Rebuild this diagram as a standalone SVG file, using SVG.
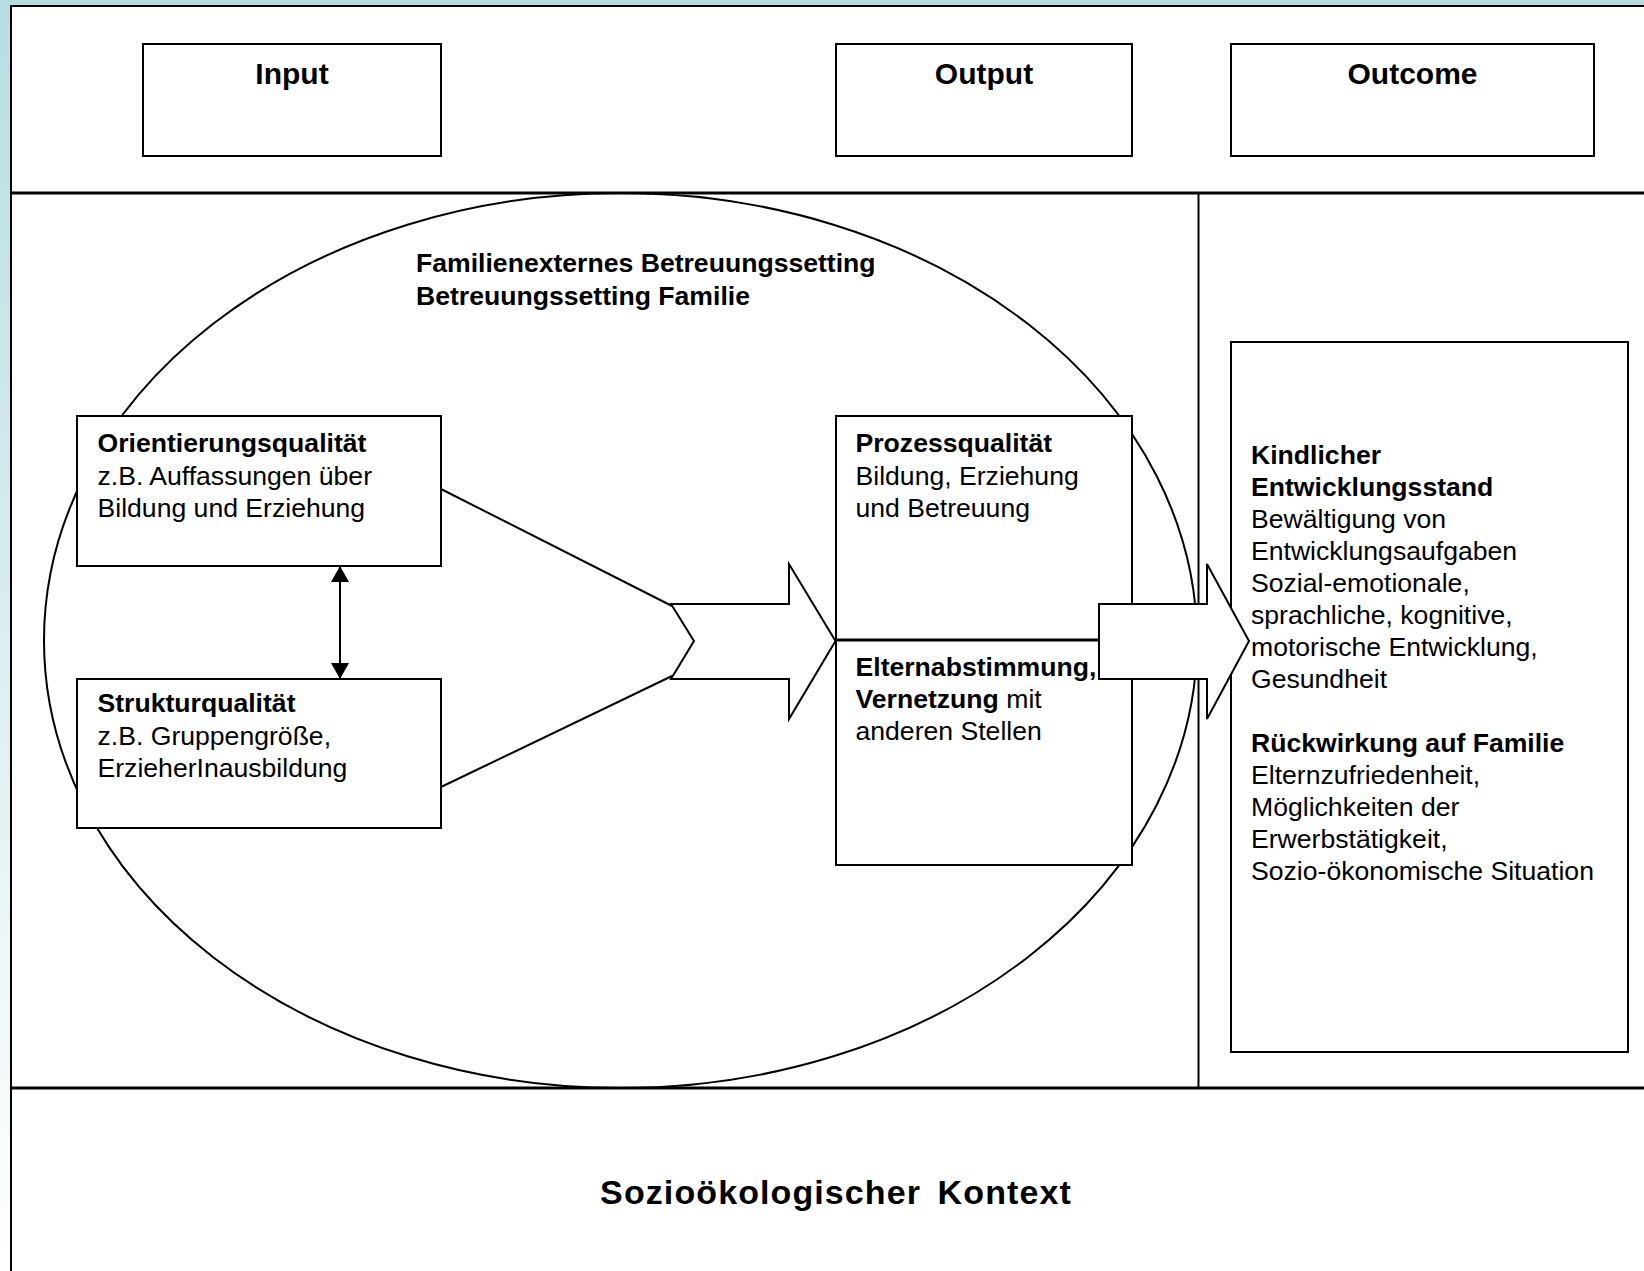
<svg xmlns="http://www.w3.org/2000/svg" width="1644" height="1271" viewBox="0 0 1644 1271">
  <defs>
    <linearGradient id="bg" x1="0" y1="0" x2="0" y2="1">
      <stop offset="0" stop-color="#B7DDE2"/>
      <stop offset="1" stop-color="#FFFFFF"/>
    </linearGradient>
    <marker id="ah" viewBox="0 0 16 18" refX="15" refY="9" markerWidth="16" markerHeight="18" markerUnits="userSpaceOnUse" orient="auto-start-reverse">
      <path d="M0,0 L16,9 L0,18 Z" fill="#000"/>
    </marker>
    <style>
      text { font-family: "Liberation Sans", Arial, sans-serif; fill: #000; }
      .box { fill: #fff; stroke: #000; stroke-width: 2; }
      .hdr { font-size: 30px; font-weight: bold; text-anchor: middle; }
      .t { font-size: 26.6px; }
      .b { font-weight: bold; }
      .line { stroke: #000; stroke-width: 2; fill: none; }
      .bigarrow { fill: #fff; stroke: #000; stroke-width: 2; stroke-linejoin: miter; }
    </style>
  </defs>

  <rect x="0" y="0" width="1644" height="1271" fill="url(#bg)"/>

  <g id="frame">
    <rect x="11" y="6" width="1640" height="1300" fill="#fff" stroke="#000" stroke-width="2"/>
    <line x1="11" y1="193" x2="1644" y2="193" stroke="#000" stroke-width="3"/>
    <line x1="11" y1="1088" x2="1644" y2="1088" stroke="#000" stroke-width="3"/>
    <line x1="1198.5" y1="193" x2="1198.5" y2="1088" stroke="#000" stroke-width="2"/>
  </g>

  <g id="setting">
    <ellipse cx="620.5" cy="640.5" rx="576.5" ry="447.5" class="line"/>
    <text class="t b" x="416" y="272">Familienexternes Betreuungssetting</text>
    <text class="t b" x="416" y="305">Betreuungssetting Familie</text>
  </g>

  <g id="input">
    <rect class="box" x="143" y="44" width="298" height="112"/>
    <text class="hdr" x="292" y="84">Input</text>
  </g>
  <g id="output">
    <rect class="box" x="836" y="44" width="296" height="112"/>
    <text class="hdr" x="984" y="84">Output</text>
  </g>
  <g id="outcome">
    <rect class="box" x="1231" y="44" width="363" height="112"/>
    <text class="hdr" x="1412.5" y="84">Outcome</text>
  </g>

  <g id="orientierung">
    <rect class="box" x="77" y="416" width="364" height="150"/>
    <text class="t" x="97.5" y="452"><tspan class="b">Orientierungsqualität</tspan><tspan x="97.5" dy="32.5">z.B. Auffassungen über</tspan><tspan x="97.5" dy="32.5">Bildung und Erziehung</tspan></text>
  </g>

  <g id="struktur">
    <rect class="box" x="77" y="679" width="364" height="149"/>
    <text class="t" x="97.5" y="712"><tspan class="b">Strukturqualität</tspan><tspan x="97.5" dy="32.5">z.B. Gruppengröße,</tspan><tspan x="97.5" dy="32.5">ErzieherInausbildung</tspan></text>
  </g>

  <g id="prozess">
    <rect class="box" x="836" y="416" width="296" height="449"/>
    <line x1="836" y1="640" x2="1132" y2="640" stroke="#000" stroke-width="3"/>
    <text class="t" x="855.5" y="452"><tspan class="b">Prozessqualität</tspan><tspan x="855.5" dy="32.5">Bildung, Erziehung</tspan><tspan x="855.5" dy="32.5">und Betreuung</tspan></text>
    <text class="t" x="855.5" y="676"><tspan class="b">Elternabstimmung,</tspan><tspan x="855.5" dy="32"><tspan class="b">Vernetzung</tspan> mit</tspan><tspan x="855.5" dy="32">anderen Stellen</tspan></text>
  </g>

  <g id="wirkung">
    <rect class="box" x="1231" y="342" width="397" height="710" stroke-width="2.5"/>
    <text class="t" x="1251" y="464">
      <tspan class="b">Kindlicher</tspan>
      <tspan class="b" x="1251" dy="32">Entwicklungsstand</tspan>
      <tspan x="1251" dy="32">Bewältigung von</tspan>
      <tspan x="1251" dy="32">Entwicklungsaufgaben</tspan>
      <tspan x="1251" dy="32">Sozial-emotionale,</tspan>
      <tspan x="1251" dy="32">sprachliche, kognitive,</tspan>
      <tspan x="1251" dy="32">motorische Entwicklung,</tspan>
      <tspan x="1251" dy="32">Gesundheit</tspan>
      <tspan class="b" x="1251" dy="64">Rückwirkung auf Familie</tspan>
      <tspan x="1251" dy="32">Elternzufriedenheit,</tspan>
      <tspan x="1251" dy="32">Möglichkeiten der</tspan>
      <tspan x="1251" dy="32">Erwerbstätigkeit,</tspan>
      <tspan x="1251" dy="32">Sozio-ökonomische Situation</tspan>
    </text>
  </g>

  <g id="kontext">
    <text x="836" y="1204" font-size="34" font-weight="bold" text-anchor="middle" letter-spacing="1.1" word-spacing="6">Sozioökologischer Kontext</text>
  </g>

  <g id="connectors">
    <line class="line" x1="441" y1="489" x2="672" y2="606"/>
    <line class="line" x1="441" y1="787" x2="672" y2="676"/>
    <line class="line" x1="340" y1="567" x2="340" y2="678" marker-start="url(#ah)" marker-end="url(#ah)"/>
    <polygon class="bigarrow" points="671,604 789,604 789,564 835.5,641 789,719 789,679 671,679 694,641"/>
    <polygon class="bigarrow" points="1099,604 1207,604 1207,564 1249,641 1207,719 1207,679 1099,679"/>
  </g>
</svg>
